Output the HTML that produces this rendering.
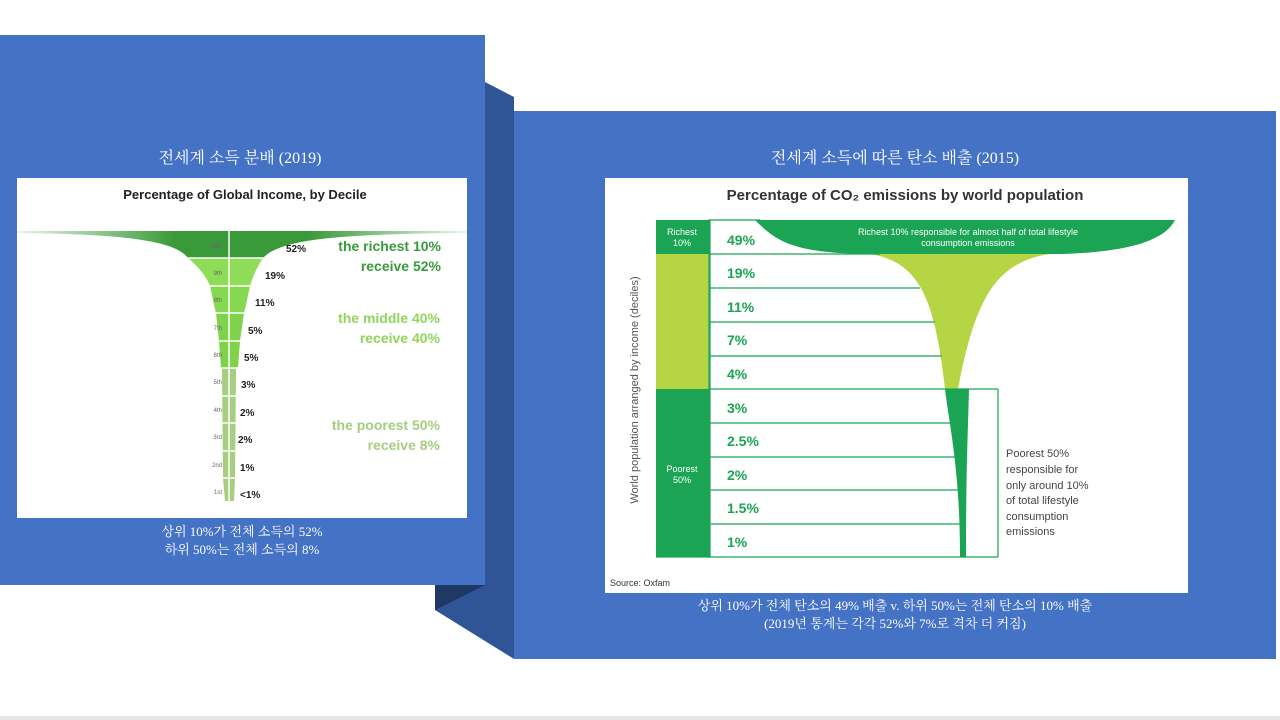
<!DOCTYPE html>
<html><head><meta charset="utf-8"><style>
html,body{margin:0;padding:0;width:1280px;height:720px;overflow:hidden;background:#fff;font-family:"Liberation Sans","Noto Sans CJK KR",sans-serif;}
</style></head><body>
<svg width="1280" height="720" viewBox="0 0 1280 720" xmlns="http://www.w3.org/2000/svg" font-family="Liberation Sans, Noto Sans CJK KR, sans-serif">
<rect x="0" y="716" width="1280" height="4" fill="#e6e6e6"/>
<!-- connector -->
<polygon points="485,82 514,97 514,659 435,610 435,585 485,585" fill="#2f5597"/>
<polygon points="435,585 485,585 435,610" fill="#1f3864"/>
<!-- left panel -->
<rect x="0" y="35" width="485" height="550" fill="#4472c4"/>
<!-- right panel -->
<rect x="514" y="111" width="762" height="548" fill="#4472c4"/>
<text x="240" y="163" text-anchor="middle" font-size="16" fill="#fff" font-family="Liberation Serif, Noto Serif CJK SC, serif">전세계 소득 분배 (2019)</text>
<text x="895" y="163" text-anchor="middle" font-size="16" fill="#fff" font-family="Liberation Serif, Noto Serif CJK SC, serif">전세계 소득에 따른 탄소 배출 (2015)</text>
<text x="242" y="536" text-anchor="middle" font-size="13" fill="#fff" font-family="Liberation Serif, Noto Serif CJK SC, serif">상위 10%가 전체 소득의 52%</text>
<text x="242" y="554" text-anchor="middle" font-size="13" fill="#fff" font-family="Liberation Serif, Noto Serif CJK SC, serif">하위 50%는 전체 소득의 8%</text>
<text x="895" y="610" text-anchor="middle" font-size="13" fill="#fff" font-family="Liberation Serif, Noto Serif CJK SC, serif">상위 10%가 전체 탄소의 49% 배출 v. 하위 50%는 전체 탄소의 10% 배출</text>
<text x="895" y="628" text-anchor="middle" font-size="13" fill="#fff" font-family="Liberation Serif, Noto Serif CJK SC, serif">(2019년 통계는 각각 52%와 7%로 격차 더 커짐)</text>

<!-- LEFT CHART -->
<rect x="17" y="178" width="450" height="340" fill="#fff"/>
<text x="245" y="199" text-anchor="middle" font-size="13" font-weight="bold" fill="#222">Percentage of Global Income, by Decile</text>
<defs><linearGradient id="fade" x1="0" x2="1"><stop offset="0" stop-color="#3a9a3a" stop-opacity="0.1"/><stop offset="0.35" stop-color="#3a9a3a"/><stop offset="0.65" stop-color="#3a9a3a"/><stop offset="1" stop-color="#3a9a3a" stop-opacity="0.1"/></linearGradient></defs>
<path d="M17,231 L467,231 L467,233 C330,234 280,240 263,258 L188,258 C175,240 120,234 17,233 Z" fill="url(#fade)"/>
<path d="M188,258 L263,258 C255,270 252,280 250,286 L210,286 C207,278 200,268 188,258 Z" fill="#8fdc58"/>
<path d="M210,286 L250,286 C247,300 245,310 244,313 L216,313 C214,305 212,295 210,286 Z" fill="#86d850"/>
<path d="M216,313 L244,313 L240,341 L219,341 Z" fill="#7fd24a"/>
<path d="M219,341 L240,341 L238,368 L221,368 Z" fill="#7fd24a"/>
<path d="M222,368 L236,368 L235,478 L234,501 L225,501 L223,478 Z" fill="#a6cd80"/>
<g stroke="#fff" stroke-width="1.5"><line x1="229" y1="231" x2="229" y2="501"/>
<line x1="185" y1="258" x2="265" y2="258"/><line x1="205" y1="286" x2="252" y2="286"/><line x1="212" y1="313" x2="246" y2="313"/><line x1="215" y1="341" x2="242" y2="341"/><line x1="218" y1="368" x2="240" y2="368"/><line x1="220" y1="396" x2="238" y2="396"/><line x1="220" y1="423" x2="238" y2="423"/><line x1="220" y1="451" x2="238" y2="451"/><line x1="220" y1="478" x2="238" y2="478"/></g>
<g font-size="6" fill="#666" text-anchor="end"><text x="222" y="248">10th</text><text x="222" y="275">9th</text><text x="222" y="302">8th</text><text x="222" y="330">7th</text><text x="222" y="357">6th</text><text x="222" y="384">5th</text><text x="222" y="412">4th</text><text x="222" y="439">3rd</text><text x="222" y="467">2nd</text><text x="222" y="494">1st</text></g>
<g font-size="10" font-weight="bold" fill="#222"><text x="286" y="252">52%</text><text x="265" y="279">19%</text><text x="255" y="306">11%</text><text x="248" y="334">5%</text><text x="244" y="361">5%</text><text x="241" y="388">3%</text><text x="240" y="416">2%</text><text x="238" y="443">2%</text><text x="240" y="471">1%</text><text x="240" y="498">&lt;1%</text></g>
<g font-size="14" font-weight="bold" text-anchor="end"><text x="441" y="251" fill="#3a9a3a">the richest 10%</text><text x="441" y="271" fill="#3a9a3a">receive 52%</text>
<text x="440" y="323" fill="#8fd65a">the middle 40%</text><text x="440" y="343" fill="#8fd65a">receive 40%</text>
<text x="440" y="430" fill="#a6cd80">the poorest 50%</text><text x="440" y="450" fill="#a6cd80">receive 8%</text></g>

<!-- RIGHT CHART -->
<rect x="605" y="178" width="583" height="415" fill="#fff"/>
<text x="905" y="200" text-anchor="middle" font-size="15" font-weight="bold" fill="#333">Percentage of CO₂ emissions by world population</text>
<rect x="656" y="220" width="53" height="34" fill="#1aa453"/>
<rect x="656" y="254" width="53" height="135" fill="#b5d545"/>
<rect x="656" y="389" width="53" height="168" fill="#1aa453"/>
<text x="682" y="235" text-anchor="middle" font-size="9" fill="#fff">Richest</text><text x="682" y="246" text-anchor="middle" font-size="9" fill="#fff">10%</text>
<text x="682" y="472" text-anchor="middle" font-size="9" fill="#fff">Poorest</text><text x="682" y="483" text-anchor="middle" font-size="9" fill="#fff">50%</text>
<!-- funnel -->
<path d="M755,220 L1175,220 C1165,240 1130,252 1060,254 L860,254 C790,252 775,240 755,220 Z" fill="#1aa453"/>
<path d="M870,254 L1050,254 C995,262 975,300 958,389 L945,389 C935,300 920,262 870,254 Z" fill="#b5d545"/>
<path d="M945,389 L969,389 C968,430 966,470 966,557 L960,557 C960,470 950,430 945,389 Z" fill="#1aa453"/>
<text x="968" y="235" text-anchor="middle" font-size="9" fill="#fff">Richest 10% responsible for almost half of total lifestyle</text>
<text x="968" y="246" text-anchor="middle" font-size="9" fill="#fff">consumption emissions</text>
<g fill="none" stroke="#1aa453" stroke-width="1.2">
<rect x="709" y="220" width="1" height="337"/>
<line x1="709" y1="220" x2="760" y2="220"/>
<line x1="709" y1="254" x2="880" y2="254"/><line x1="709" y1="288" x2="920" y2="288"/><line x1="709" y1="322" x2="935" y2="322"/><line x1="709" y1="356" x2="942" y2="356"/>
<line x1="709" y1="389" x2="998" y2="389"/><line x1="709" y1="423" x2="958" y2="423"/><line x1="709" y1="457" x2="960" y2="457"/><line x1="709" y1="490" x2="960" y2="490"/><line x1="709" y1="524" x2="960" y2="524"/><line x1="656" y1="557" x2="998" y2="557"/>
<line x1="998" y1="389" x2="998" y2="557"/></g>
<g font-size="14" font-weight="bold" fill="#1aa453"><text x="727" y="245">49%</text><text x="727" y="278">19%</text><text x="727" y="312">11%</text><text x="727" y="345">7%</text><text x="727" y="379">4%</text><text x="727" y="413">3%</text><text x="727" y="446">2.5%</text><text x="727" y="480">2%</text><text x="727" y="513">1.5%</text><text x="727" y="547">1%</text></g>
<text transform="translate(638,390) rotate(-90)" text-anchor="middle" font-size="11" fill="#555">World population arranged by income (deciles)</text>
<g font-size="11" fill="#444"><text x="1006" y="457">Poorest 50%</text><text x="1006" y="473">responsible for</text><text x="1006" y="489">only around 10%</text><text x="1006" y="504">of total lifestyle</text><text x="1006" y="520">consumption</text><text x="1006" y="535">emissions</text></g>
<text x="610" y="586" font-size="9" fill="#333">Source: Oxfam</text>
</svg>
</body></html>
